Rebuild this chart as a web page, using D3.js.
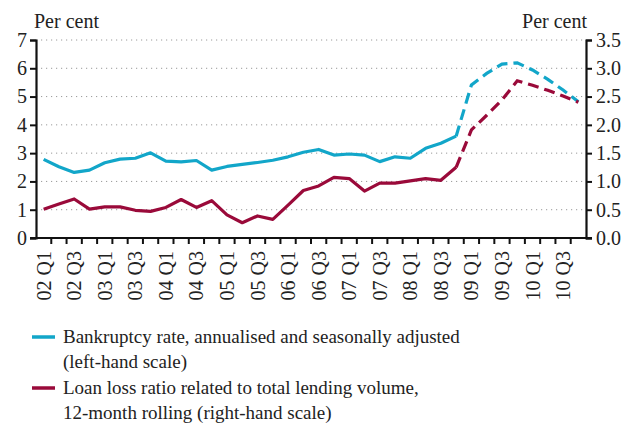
<!DOCTYPE html>
<meta charset="utf-8">
<style>
  body { margin: 0; background: #fff; }
  text { font-family: "Liberation Serif", "DejaVu Serif", serif; fill: #222; }
</style>
<body>
<script src="https://cdn.jsdelivr.net/npm/d3@7/dist/d3.min.js"></script>
<script>

    var width = 632,
        height = 425;

    // quarters 2002 Q1 .. 2010 Q4
    var years = ["02", "03", "04", "05", "06", "07", "08", "09", "10"];
    var quarters = [];
    years.forEach(function(y) {
        [1, 2, 3, 4].forEach(function(q) { quarters.push(y + " Q" + q); });
    });

    // bankruptcy rate, left-hand scale
    var bankruptcy = [2.78, 2.52, 2.32, 2.40, 2.66, 2.79, 2.82, 3.01, 2.72, 2.69, 2.74, 2.40,
                      2.53, 2.60, 2.67, 2.75, 2.87, 3.03, 3.13, 2.93, 2.97, 2.93, 2.70, 2.87,
                      2.82, 3.17, 3.35, 3.60, 5.41, 5.82, 6.15, 6.19, 5.94, 5.61, 5.23, 4.82];

    // loan loss ratio, right-hand scale
    var loanLoss = [0.51, 0.60, 0.69, 0.51, 0.55, 0.55, 0.49, 0.47, 0.54, 0.68, 0.54, 0.66,
                    0.41, 0.27, 0.39, 0.33, 0.58, 0.84, 0.92, 1.07, 1.05, 0.83, 0.97, 0.97,
                    1.01, 1.05, 1.02, 1.25, 1.91, 2.17, 2.44, 2.78, 2.70, 2.61, 2.51, 2.40];

    // from this index on the series are forecasts (dashed)
    var forecastFrom = 27;

    var leftTicks = [0, 1, 2, 3, 4, 5, 6, 7];
    var rightTicks = [0, 0.5, 1, 1.5, 2, 2.5, 3, 3.5];

    var legendItems = [
        {color: "#12a6c9", lines: ["Bankruptcy rate, annualised and seasonally adjusted", "(left-hand scale)"]},
        {color: "#9a0a3a", lines: ["Loan loss ratio related to total lending volume,", "12-month rolling (right-hand scale)"]}
    ];

    var x0 = 36, x1 = 586, yTop = 40, yBot = 238;

    var svg = d3.select("body").append("svg")
            .attr("width", width)
            .attr("height", height);

    var x = d3.scaleBand().domain(quarters).range([x0, x1]);
    var yL = d3.scaleLinear().domain([0, 7]).range([yBot, yTop]);
    var yR = d3.scaleLinear().domain([0, 3.5]).range([yBot, yTop]);

    //虚线网格
    svg.append("g").selectAll("line")
            .data(leftTicks.slice(1))
            .enter().append("line")
            .attr("x1", x0).attr("x2", x1)
            .attr("y1", function(d) { return yL(d); })
            .attr("y2", function(d) { return yL(d); })
            .attr("stroke", "#9a9a9a")
            .attr("stroke-width", 1)
            .attr("stroke-dasharray", "1.2,3.8");

    var fs = 20;

    // left axis
    var gl = svg.append("g").attr("transform", "translate(" + x0 + ",0)")
            .call(d3.axisLeft(yL).tickValues(leftTicks).tickSize(6).tickPadding(3).tickFormat(d3.format("d")));
    // right axis
    var gr = svg.append("g").attr("transform", "translate(" + x1 + ",0)")
            .call(d3.axisRight(yR).tickValues(rightTicks).tickSize(6).tickPadding(4).tickFormat(d3.format(".1f")));
    // bottom axis, ticks at band edges
    var gb = svg.append("g").attr("transform", "translate(0," + yBot + ")");
    gb.append("line").attr("x1", x0 - 6).attr("x2", x1 + 6).attr("stroke", "#111").attr("stroke-width", 2.2);
    gb.selectAll(".qt").data(quarters.slice(1))
            .enter().append("line")
            .attr("x1", function(d) { return x(d); })
            .attr("x2", function(d) { return x(d); })
            .attr("y1", 0).attr("y2", 6)
            .attr("stroke", "#111").attr("stroke-width", 2);
    gb.selectAll(".ql").data(quarters.filter(function(d, i) { return i % 2 === 0; }))
            .enter().append("text")
            .attr("transform", function(d) {
                return "translate(" + (x(d) + x.bandwidth() / 2 + 7) + ",13) rotate(-90)";
            })
            .attr("text-anchor", "end")
            .style("font-size", fs + "px")
            .text(function(d) { return d; });

    [gl, gr].forEach(function(g) {
        g.select(".domain").attr("stroke", "#111").attr("stroke-width", 2.2);
        g.selectAll(".tick line").attr("stroke", "#111").attr("stroke-width", 2);
        g.selectAll(".tick text").style("font-size", fs + "px")
                .style("font-family", "Liberation Serif").attr("fill", "#222");
    });

    svg.append("text").attr("x", 34).attr("y", 28).style("font-size", fs + "px").text("Per cent");
    svg.append("text").attr("x", 587).attr("y", 28).attr("text-anchor", "end")
            .style("font-size", fs + "px").text("Per cent");

    function cx(i) { return x(quarters[i]) + x.bandwidth() / 2; }

    function drawSeries(values, yScale, color) {
        var line = d3.line()
                .x(function(d) { return cx(d.i); })
                .y(function(d) { return yScale(d.v); });
        var pts = values.map(function(v, i) { return {i: i, v: v}; });
        svg.append("path")
                .attr("d", line(pts.slice(0, forecastFrom + 1)))
                .attr("fill", "none").attr("stroke", color)
                .attr("stroke-width", 3.2).attr("stroke-linejoin", "round");
        svg.append("path")
                .attr("d", line(pts.slice(forecastFrom)))
                .attr("fill", "none").attr("stroke", color)
                .attr("stroke-width", 3.2).attr("stroke-dasharray", "11,6");
    }

    drawSeries(bankruptcy, yL, legendItems[0].color);
    drawSeries(loanLoss, yR, legendItems[1].color);

    // legend
    var lg = svg.append("g");
    legendItems.forEach(function(item, k) {
        var y = 337 + k * 51;
        lg.append("line").attr("x1", 32).attr("x2", 55).attr("y1", y).attr("y2", y)
                .attr("stroke", item.color).attr("stroke-width", 3.5);
        item.lines.forEach(function(t, j) {
            lg.append("text").attr("x", 63).attr("y", y + 6 + j * 25)
                    .style("font-size", "19px").text(t);
        });
    });

</script>
